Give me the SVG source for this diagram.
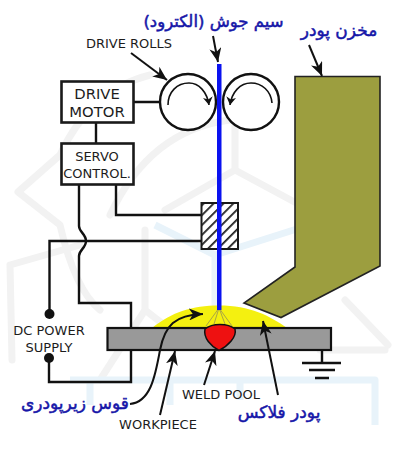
<svg xmlns="http://www.w3.org/2000/svg" width="400" height="450" viewBox="0 0 400 450">
<style>
text{font-family:"DejaVu Sans","Noto Sans",sans-serif;fill:#1c1c1c;text-anchor:middle}
.fa{fill:#1616a8;stroke:#1616a8;stroke-width:.5;direction:rtl}
.wg{fill:none;stroke:#f2f2f2;stroke-width:7;stroke-linecap:round;stroke-linejoin:round}
.wb{fill:none;stroke:#e8f3fa;stroke-width:7;stroke-linejoin:round}
.w{fill:none;stroke:#111;stroke-width:2.4}
.b{fill:#fff;stroke:#1a1a1a;stroke-width:2.6}
.a{fill:none;stroke:#111;stroke-width:2;marker-end:url(#ah)}
.s{fill:none;stroke:#111;stroke-width:1.6;marker-end:url(#sh)}
</style>
<defs>
<marker id="ah" markerUnits="userSpaceOnUse" markerWidth="16" markerHeight="12" refX="14" refY="6" orient="auto"><path d="M0 0L14 6L0 12L4 6Z" fill="#111"/></marker>
<marker id="sh" markerUnits="userSpaceOnUse" markerWidth="9" markerHeight="10" refX="8" refY="5" orient="auto"><path d="M0 0L8 5L0 10L2.5 5Z" fill="#111"/></marker>
<pattern id="h" patternUnits="userSpaceOnUse" width="7" height="7" patternTransform="rotate(45)"><rect width="7" height="7" fill="#fff"/><rect width="1.800" height="7" fill="#222"/></pattern>
</defs>
<g id="watermark">
<path class="wg" d="M150 75Q90 90 60 155L18 192L60 225Q75 290 100 310M10 265L12 360M10 265L80 245M145 230V310M145 310L100 380M145 310L190 345M235 170L300 205M235 170L165 210M235 170V90M320 350L385 350"/>
<path class="wg" d="M110 215Q150 130 230 120M345 300L388 345"/>
<path class="wb" d="M155 225L215 255L300 228M215 255V320M70 380H375V425M90 378V405M170 378V405M240 378V400"/>
</g>
<g id="connectors">
<path class="w" d="M133 102H160M96 123V143M116 184V215H201M79 184V226C79 232 86 234 86 241C86 248 79 250 79 256V303H131V328M201 241H49.500V314M131 350V382H49V358M322 350V363M302 363H341M309 370H335M315 378H329"/>
</g>
<g id="yellow-flux"><path d="M152 328C172 312 192 305.500 219 305.500C250 305.500 270 316 287 328Z" fill="#f4f010"/></g>
<g id="hopper"><path d="M295 76.500H380V266L281 317.500L244 303L295 267Z" fill="#9c9e3f" stroke="#222" stroke-width="1.600"/></g>
<g id="roll-left"><circle cx="188" cy="102" r="28" fill="#fff" stroke="#111" stroke-width="2.400"/><path class="s" d="M168 105C168 92 177 83 189 83C199 83 207 92 209 105"/></g>
<g id="roll-right"><circle cx="251" cy="102" r="28" fill="#fff" stroke="#111" stroke-width="2.400"/><path class="s" d="M272 103C271 91 262 83 251 83C240 83 232 92 230 105"/></g>
<g id="drive-motor"><rect class="b" x="61.500" y="81.500" width="72" height="41"/><text x="97" y="99" font-size="14.800">DRIVE</text><text x="97" y="117" font-size="14.800">MOTOR</text></g>
<g id="servo-control"><rect class="b" x="61.500" y="143.500" width="72" height="41"/><text x="97" y="161" font-size="13">SERVO</text><text x="97" y="178" font-size="13">CONTROL.</text></g>
<g id="contact-tube"><rect x="201.500" y="203" width="36.500" height="46" fill="url(#h)" stroke="#1a1a1a" stroke-width="2"/></g>
<g id="workpiece"><rect x="107.500" y="328" width="223.500" height="22" fill="#999" stroke="#111" stroke-width="2.200"/></g>
<g id="arc"><path d="M219 308L206 326M219 308L214 324M219 308L225 324M219 308L232 326" fill="none" stroke="#a9a545" stroke-width="1"/></g>
<g id="weld-pool"><path d="M205 329C212 323 228 323 235 329C237 337 228 346 219 350.500C211 346 203 338 205 329Z" fill="#ee1111" stroke="#111" stroke-width="1.500"/></g>
<g id="wire"><rect x="217" y="64" width="4.500" height="246" fill="#0a12f0"/></g>
<g id="dots"><circle cx="49.500" cy="314" r="5" fill="#111"/><circle cx="49" cy="358" r="5" fill="#111"/></g>
<g id="arrows">
<path class="a" d="M131 53L167 80"/>
<path class="a" d="M213 36L218 62"/>
<path class="a" d="M309 45L322 76"/>
<path class="a" d="M130 404C150 402 155 378 160 350C165 325 175 315 203 314"/>
<path class="a" d="M160 415L175 351"/>
<path class="a" d="M204 385L215 351"/>
<path class="a" d="M278 395L263 321"/>
</g>
<g id="labels">
<text x="129" y="48" font-size="13">DRIVE ROLLS</text>
<text x="49" y="335" font-size="13">DC POWER</text>
<text x="49" y="352" font-size="13">SUPPLY</text>
<text x="221" y="399" font-size="13">WELD POOL</text>
<text x="158" y="429" font-size="13">WORKPIECE</text>
<text class="fa" x="213.500" y="27" font-size="16.500">سیم جوش (الکترود)</text>
<text class="fa" x="339" y="36" font-size="17">مخزن پودر</text>
<text class="fa" x="75" y="409" font-size="17">قوس زیرپودری</text>
<text class="fa" x="279" y="418" font-size="17">پودر فلاکس</text>
</g>
</svg>
